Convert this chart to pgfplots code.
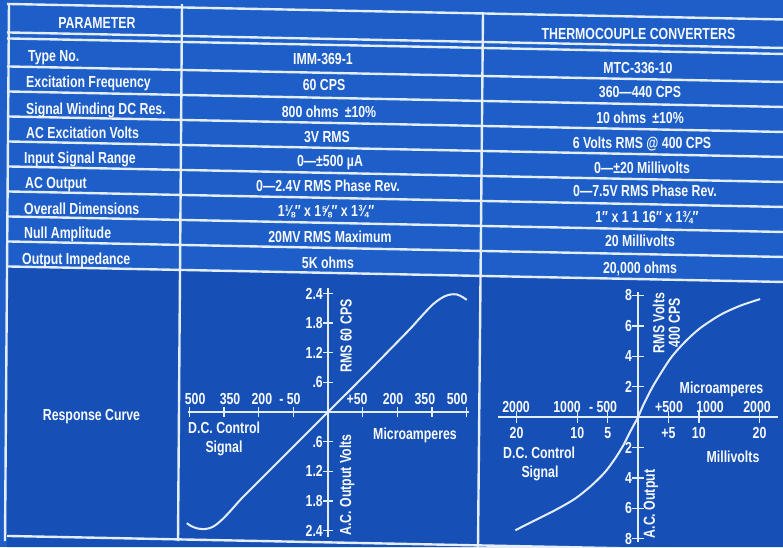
\documentclass[border=0pt]{standalone}
\usepackage{fontspec}
\setmainfont{Liberation Sans}[FakeStretch=0.77]
\usepackage{pgfplots}
\pgfplotsset{compat=1.18}
\definecolor{bg}{RGB}{30,94,200}
\definecolor{bgdark}{RGB}{22,80,182}
\definecolor{ln}{RGB}{228,238,248}
\definecolor{tx}{RGB}{248,250,252}
\newcommand{\fs}{\fontsize{16}{15.5}\selectfont\bfseries}
\begin{document}
\begin{tikzpicture}[x=1pt,y=-1pt,
  t/.style={text=tx, font=\fs, inner sep=0pt}]
\useasboundingbox (0,0) rectangle (783,547);
\fill[bg] (0,0) rectangle (783,547);
\fill[bgdark] (7,266.4) -- (783,282) -- (783,547) -- (7,547) -- cycle;
\foreach \a in {4,32.5,38.5,66.5,91.5,116.5,141.5,166.5,191.5,216.5,241.5,266.5,536}
  \draw[ln, line width=2.4pt] (7,{\a-0.06}) -- (783,{\a+15.46});
\draw[ln, line width=2.4pt] (9,3) -- (5,541);
\draw[ln, line width=2.4pt] (182,4) -- (178,541);
\draw[ln, line width=2.4pt] (483,12) -- (478,547);
% header
\node[t, anchor=base] at (97,28.5) {PARAMETER};
\node[t, anchor=base] at (638.5,39) {THERMOCOUPLE CONVERTERS};
% left column
\node[t, anchor=base west] at (28,61) {Type No.};
\node[t, anchor=base west] at (26,87) {Excitation Frequency};
\node[t, anchor=base west] at (26,114) {Signal Winding DC Res.};
\node[t, anchor=base west] at (26,138.5) {AC Excitation Volts};
\node[t, anchor=base west] at (24,163) {Input Signal Range};
\node[t, anchor=base west] at (25,188) {AC Output};
\node[t, anchor=base west] at (24,214) {Overall Dimensions};
\node[t, anchor=base west] at (24,238.5) {Null Amplitude};
\node[t, anchor=base west] at (22,264) {Output Impedance};
\node[t, anchor=base] at (91.5,420) {Response Curve};
% middle column
\node[t, anchor=base] at (323,64) {IMM-369-1};
\node[t, anchor=base] at (324,90.7) {60 CPS};
\node[t, anchor=base] at (329,117) {800 ohms \,±10\%};
\node[t, anchor=base] at (327,142.5) {3V RMS};
\node[t, anchor=base] at (330,166.5) {0—±500 µA};
\node[t, anchor=base] at (328,191.5) {0—2.4V RMS Phase Rev.};
\node[t, anchor=base] at (326,216.5) {1⅛″ x 1⅝″ x 1¾″};
\node[t, anchor=base] at (330,242) {20MV RMS Maximum};
\node[t, anchor=base] at (328,268) {5K ohms};
% right column
\node[t, anchor=base] at (638,73.3) {MTC-336-10};
\node[t, anchor=base] at (640,97.3) {360—440 CPS};
\node[t, anchor=base] at (640,123) {10 ohms \,±10\%};
\node[t, anchor=base] at (642,148.3) {6 Volts RMS @ 400 CPS};
\node[t, anchor=base] at (642,173.3) {0—±20 Millivolts};
\node[t, anchor=base] at (645,196.7) {0—7.5V RMS Phase Rev.};
\node[t, anchor=base] at (647,222.7) {1″ x 1 1 16″ x 1¾″};
\node[t, anchor=base] at (640,246.7) {20 Millivolts};
\node[t, anchor=base] at (640,273) {20,000 ohms};
% left chart texts
\node[t, anchor=base west] at (188,433) {D.C. Control};
\node[t, anchor=base] at (224,452) {Signal};
\node[t, anchor=base] at (415,439.3) {Microamperes};
\node[t, rotate=90] at (346,336) {RMS 60 CPS};
\node[t, rotate=90] at (347,485) {A.C. Output Volts};
% right chart texts
\node[t, anchor=base west] at (503,458) {D.C. Control};
\node[t, anchor=base] at (540,477) {Signal};
\node[t, anchor=base] at (733,462.7) {Millivolts};
\node[t, anchor=base] at (721.5,393.3) {Microamperes};
\node[t, rotate=90, align=center] at (666.5,323) {RMS Volts\\400 CPS};
\node[t, rotate=90] at (651,504) {A.C. Output};

\pgfplotsset{chart/.style={
  scale only axis, anchor=south west, clip=false,
  axis lines=middle, axis line style={ln, line width=1.6pt, -},
  tick align=center,
  tick style={ln, line width=1.4pt},
  tick label style={font=\fs, text=tx, inner sep=0pt},
  yticklabel style={anchor=east},
}}
\begin{axis}[chart,
  at={(187.5pt,-537pt)}, width=281pt, height=249pt,
  xmin=-4.06, xmax=4.06, ymin=-2.53, ymax=2.51,
  major tick length=10pt,
  xtick={-4,-3,-2,-1,1,2,3,4}, xticklabels={},
  extra x ticks={-3.84,-2.83,-1.91,-1.10,0.84,1.88,2.80,3.73},
  extra x tick labels={500,350,200,- 50,+50,200,350,500},
  extra x tick style={tick style={draw=none}, major tick length=0pt,
     xticklabel style={anchor=base, yshift=7.5pt}},
  ytick={-2.4,-1.8,-1.2,-0.6,0.6,1.2,1.8,2.4},
  yticklabels={2.4,1.8,1.2,.6,.6,1.2,1.8,2.4},
]
\addplot[ln, line width=2pt, smooth, tension=0.5] coordinates {
 (-4.08,-2.25) (-3.95,-2.31) (-3.78,-2.355) (-3.6,-2.37) (-3.42,-2.35)
 (-3.25,-2.29) (-3.05,-2.17) (-2.83,-2.01) (-2.55,-1.79) (-2.3,-1.61)
 (-1,-0.70) (0,0) (1,0.70) (2.3,1.63) (2.6,1.86) (2.85,2.05) (3.05,2.19)
 (3.24,2.29) (3.4,2.35) (3.55,2.38) (3.72,2.38) (3.88,2.33) (4.01,2.27)};
\end{axis}
\begin{axis}[chart,
  at={(498.3pt,-542.4pt)}, width=279.5pt, height=250.8pt,
  xmin=-23, xmax=23, ymin=-8.25, ymax=8.25,
  major tick length=12pt,
  xtick={-20,-10,-5,5,10,20}, xticklabels={20,10,5,+5,10,20},
  xticklabel style={anchor=base, yshift=-15pt},
  extra x ticks={-20.08,-11.69,-5.76,5.10,11.85,19.59},
  extra x tick labels={2000,1000,- 500,+500,1000,2000},
  extra x tick style={tick style={draw=none}, major tick length=0pt,
     xticklabel style={yshift=19.5pt}},
  ytick={-8,-6,-4,-2,2,4,6,8},
  yticklabels={8,6,4,2,2,4,6,8},
]
\addplot[ln, line width=2pt, smooth, tension=0.5] coordinates {
 (-20.2,-7.45) (-17.0,-6.80) (-13.7,-6.14) (-10.4,-5.38) (-7.62,-4.49)
 (-5.43,-3.62) (-3.79,-2.74) (-2.42,-1.86) (-1.32,-0.99) (0,0) (0.87,0.79)
 (2.26,1.89) (3.90,2.98) (5.55,3.97) (7.74,4.95) (10.2,5.84) (13.5,6.71)
 (16.8,7.32) (20.1,7.76)};
\end{axis}
\end{tikzpicture}
\end{document}
